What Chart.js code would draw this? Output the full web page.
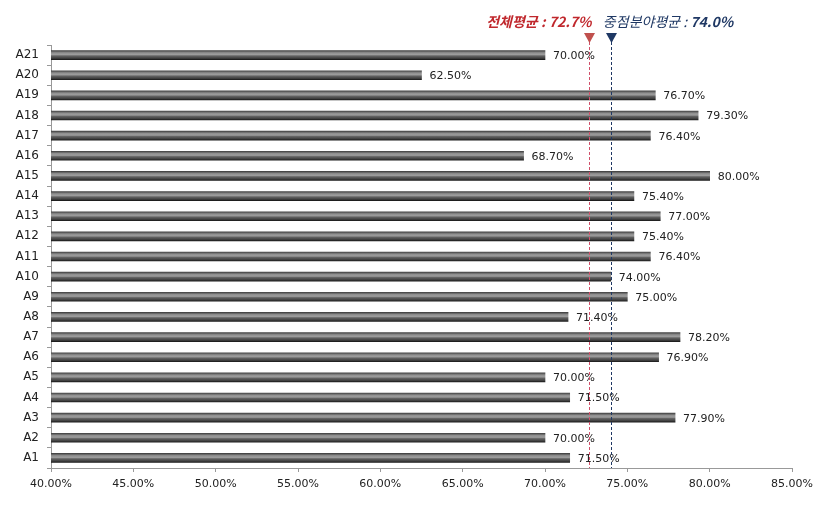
<!DOCTYPE html>
<html><head><meta charset="utf-8">
<script src="https://cdn.jsdelivr.net/npm/chart.js@4.4.1/dist/chart.umd.min.js"></script>
<style>html,body{margin:0;padding:0;background:#fff;}#wrap{width:824px;height:507px;}</style>
</head><body><div id="wrap"><canvas id="c"></canvas></div>
<script>
const categories = ['A21','A20','A19','A18','A17','A16','A15','A14','A13','A12','A11','A10','A9','A8','A7','A6','A5','A4','A3','A2','A1'];
const values = [70.0,62.5,76.7,79.3,76.4,68.7,80.0,75.4,77.0,75.4,76.4,74.0,75.0,71.4,78.2,76.9,70.0,71.5,77.9,70.0,71.5];
const xTicks = [40,45,50,55,60,65,70,75,80,85];
const overallAvg = 72.7;
const focusAvg = 74.0;
const overallLabel = '전체평균 : 72.7%';
const focusLabelKo = '중점분야평균 : ';
const focusLabelNum = '74.0%';

const FONT = '"DejaVu Sans", sans-serif';

const barGrad = (c) => {
  const chart = c.chart; const ys = chart.scales.y;
  if (!ys || c.dataIndex === undefined) return '#555';
  const y = ys.getPixelForValue(c.dataIndex);
  if (!isFinite(y)) return '#555';
  const h = 9;
  const g = chart.ctx.createLinearGradient(0, y - h/2, 0, y + h/2);
  g.addColorStop(0, '#444444');
  g.addColorStop(0.25, '#909090');
  g.addColorStop(0.45, '#9c9c9c');
  g.addColorStop(0.6, '#626262');
  g.addColorStop(0.85, '#404040');
  g.addColorStop(1, '#1c1c1c');
  return g;
};

const overlay = {
  id: 'overlay',
  afterDatasetsDraw(chart) {
    const ctx = chart.ctx;
    const meta = chart.getDatasetMeta(0);
    ctx.save();
    ctx.font = '11px ' + FONT;
    ctx.fillStyle = '#222';
    ctx.textBaseline = 'middle';
    ctx.textAlign = 'left';
    meta.data.forEach((el, i) => {
      ctx.fillText(values[i].toFixed(2) + '%', el.x + 8, el.y + 1);
    });
    ctx.restore();
  },
  afterDraw(chart) {
    const ctx = chart.ctx;
    const xs = chart.scales.x;
    const area = chart.chartArea;
    const lines = [
      {v: overallAvg, color: '#d0506a', tri: '#c0504d'},
      {v: focusAvg, color: '#1f3864', tri: '#1f3864'}
    ];
    ctx.save();
    lines.forEach(l => {
      const x = Math.round(xs.getPixelForValue(l.v)) + 0.5;
      ctx.strokeStyle = l.color;
      ctx.lineWidth = 1;
      ctx.setLineDash([3, 2]);
      ctx.beginPath();
      ctx.moveTo(x, 42);
      ctx.lineTo(x, area.bottom);
      ctx.stroke();
      ctx.setLineDash([]);
      ctx.fillStyle = l.tri;
      ctx.beginPath();
      ctx.moveTo(x - 5.5, 33);
      ctx.lineTo(x + 5.5, 33);
      ctx.lineTo(x, 43);
      ctx.closePath();
      ctx.fill();
    });
    const xr = xs.getPixelForValue(overallAvg);
    const xb = xs.getPixelForValue(focusAvg);
    ctx.textBaseline = 'middle';
    ctx.font = 'italic bold 14px "Noto Sans CJK KR", sans-serif';
    ctx.fillStyle = '#c0282d';
    ctx.textAlign = 'right';
    ctx.fillText(overallLabel, xr + 2, 22);
    ctx.textAlign = 'left';
    ctx.fillStyle = '#1f3864';
    ctx.font = 'italic 14px "Noto Sans CJK KR", sans-serif';
    const w = ctx.measureText(focusLabelKo).width;
    ctx.fillText(focusLabelKo, xb - 8, 22);
    ctx.font = 'italic bold 14px "Noto Sans CJK KR", sans-serif';
    ctx.fillText(focusLabelNum, xb - 8 + w, 22);
    ctx.restore();
  }
};

new Chart(document.getElementById('c'), {
  type: 'bar',
  data: {
    labels: categories,
    datasets: [{
      data: values,
      backgroundColor: barGrad,
      barThickness: 9,
      borderWidth: 0
    }]
  },
  options: {
    indexAxis: 'y',
    responsive: true,
    maintainAspectRatio: false,
    animation: false,
    events: [],
    layout: { padding: { top: 45, right: 32, left: 0, bottom: 0 } },
    plugins: { legend: { display: false }, tooltip: { enabled: false } },
    scales: {
      x: {
        min: 40, max: 85,
        afterBuildTicks: (s) => { s.ticks = xTicks.map(v => ({value: v})); },
        afterFit: (s) => { s.height = 39; },
        grid: { drawOnChartArea: false, drawTicks: true, tickLength: 4, color: '#999' },
        border: { color: '#999' },
        ticks: { font: { family: FONT, size: 11 }, color: '#222', padding: 6, maxRotation: 0,
          callback: (v) => v.toFixed(2) + '%' }
      },
      y: {
        afterFit: (s) => { s.width = 51; },
        grid: { drawOnChartArea: false, drawTicks: true, tickLength: 4, color: '#999', offset: true },
        border: { color: '#999' },
        ticks: { font: { family: FONT, size: 12 }, color: '#222', padding: 8 }
      }
    }
  },
  plugins: [overlay]
});
</script>
</body></html>
